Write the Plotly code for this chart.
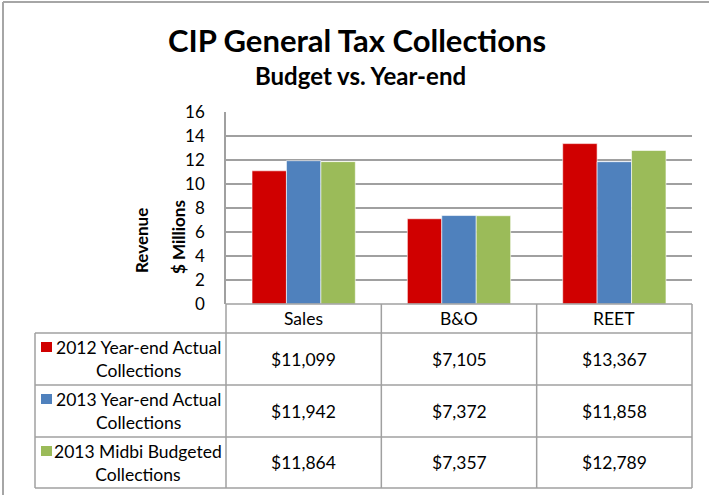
import plotly.graph_objects as go

categories = ["Sales", "B&O", "REET"]
series_names = ["2012 Year-end Actual<br>Collections",
                "2013 Year-end Actual<br>Collections",
                "2013 Midbi Budgeted<br>Collections"]
values_2012_actual = [11099, 7105, 13367]
values_2013_actual = [11942, 7372, 11858]
values_2013_budget = [11864, 7357, 12789]
y_ticks = [0, 2, 4, 6, 8, 10, 12, 14, 16]

series_values = [values_2012_actual, values_2013_actual, values_2013_budget]
colors = ["#D00000", "#4F81BD", "#9BBB59"]

W, H = 709, 495
L, R, T, B = 226, 692, 112, 304
FONT = "Lato"
TS = 17.5

def xp(px):
    return (px - L) / (R - L)

def yp(py):
    return (B - py) / (B - T)

fig = go.Figure()
for name, vals, col in zip(series_names, series_values, colors):
    fig.add_trace(go.Bar(
        x=categories, y=[v / 1000 for v in vals], name=name,
        marker=dict(color=col, line=dict(color="white", width=0.6)),
        showlegend=False,
    ))

shapes = []
annotations = []
grid = "#A0A0A0"

def ann(x, y, text, size, **kw):
    d = dict(xref="paper", yref="paper", x=x, y=y, text=text, showarrow=False,
             xanchor="center", yanchor="middle",
             font=dict(family=FONT, size=size, color="black"))
    d.update(kw)
    annotations.append(d)

# outer chart border (left + top)
shapes.append(dict(type="line", xref="paper", yref="paper",
                   x0=xp(3), x1=xp(3), y0=yp(2), y1=yp(H + 5),
                   line=dict(color="#A6A6A6", width=2)))
shapes.append(dict(type="line", xref="paper", yref="paper",
                   x0=xp(3), x1=xp(W + 5), y0=yp(2), y1=yp(2),
                   line=dict(color="#A6A6A6", width=2)))

# data table
row_edges = [304, 333, 385, 437, 488]
legend_left = 35
n = len(categories)
for i, ry in enumerate(row_edges):
    x0 = xp(legend_left) if i >= 1 else 0
    shapes.append(dict(type="line", xref="paper", yref="paper",
                       x0=x0, x1=1, y0=yp(ry), y1=yp(ry),
                       line=dict(color=grid, width=1.5)))
for j in range(n + 1):
    shapes.append(dict(type="line", xref="paper", yref="paper",
                       x0=j / n, x1=j / n, y0=yp(row_edges[0]), y1=yp(row_edges[-1]),
                       line=dict(color=grid, width=1.5)))
shapes.append(dict(type="line", xref="paper", yref="paper",
                   x0=xp(legend_left), x1=xp(legend_left),
                   y0=yp(row_edges[1]), y1=yp(row_edges[-1]),
                   line=dict(color=grid, width=1.5)))

# header labels
for j, c in enumerate(categories):
    ann((j + 0.5) / n, yp((row_edges[0] + row_edges[1]) / 2), c, TS)

# rows
for r, (name, vals, col) in enumerate(zip(series_names, series_values, colors)):
    top = row_edges[r + 1]
    yc = yp((row_edges[r + 1] + row_edges[r + 2]) / 2)
    # legend key
    shapes.append(dict(type="rect", xref="paper", yref="paper",
                       x0=xp(41), x1=xp(52), y0=yp(top + 9), y1=yp(top + 19),
                       fillcolor=col, line=dict(width=0)))
    ann(xp(138), yc, name, TS, align="center")
    for j, v in enumerate(vals):
        ann((j + 0.5) / n, yc, f"${v:,}", TS)

# titles
ann(xp(357), yp(40), "<b>CIP General Tax Collections</b>", 31)
ann(xp(360), yp(75), "<b>Budget vs. Year-end</b>", 24)
# y-axis title lines
ann(xp(141), yp(241), "<b>Revenue</b>", 17, textangle=-90)
ann(xp(178), yp(237), "<b>$ Millions</b>", 17, textangle=-90)

fig.update_layout(
    width=W, height=H,
    margin=dict(l=L, r=W - R, t=T, b=H - B, pad=0),
    paper_bgcolor="white", plot_bgcolor="white",
    barmode="group", bargap=0.335, bargroupgap=0,
    shapes=shapes, annotations=annotations,
    font=dict(family=FONT, size=TS, color="black"),
)
fig.update_yaxes(range=[0, 16], tickvals=y_ticks, showgrid=True, gridcolor=grid,
                 gridwidth=1.5, showline=True, linecolor=grid, linewidth=1.5,
                 zeroline=False, ticks="", ticklabelstandoff=16,
                 tickfont=dict(family=FONT, size=17, color="black"))
fig.update_xaxes(showticklabels=False, showline=False, ticks="")

fig.write_html("out.html", config={"displayModeBar": False},
               post_script="document.body.style.margin='0';document.body.style.overflow='hidden';")
